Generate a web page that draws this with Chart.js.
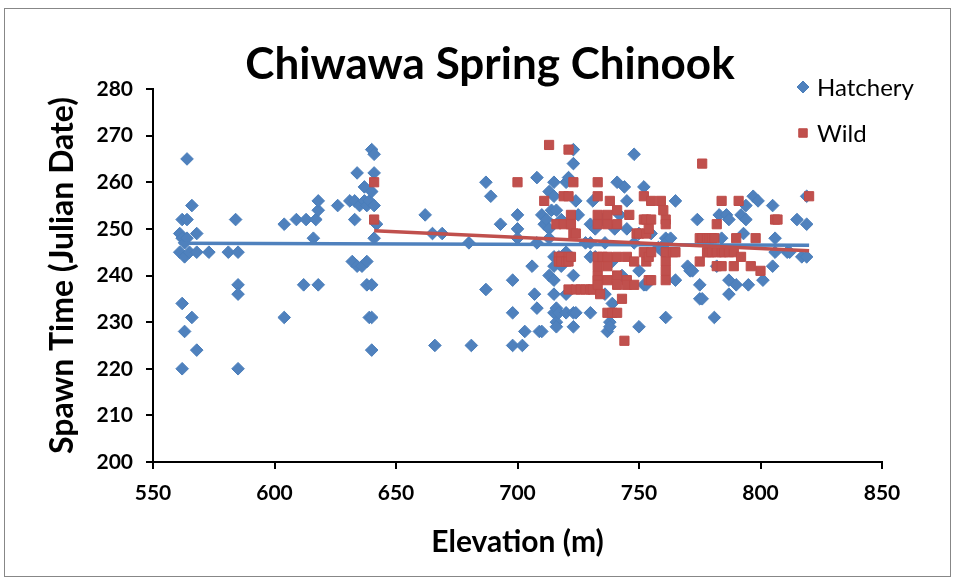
<!DOCTYPE html>
<html>
<head>
<meta charset="utf-8">
<script src="https://cdn.jsdelivr.net/npm/chart.js@4.4.0/dist/chart.umd.min.js"></script>
<style>
  html, body { margin: 0; padding: 0; background: #fff; }
  #wrap { position: relative; width: 954px; height: 578px; }
</style>
</head>
<body>
<div id="wrap"><canvas id="c" width="954" height="578"></canvas></div>
<script>
// ---- data ----
const chartTitle = "Chiwawa Spring Chinook";
const xTitle = "Elevation (m)";
const yTitle = "Spawn Time (Julian Date)";
const seriesNames = ["Hatchery", "Wild"];
const xTicks = [550, 600, 650, 700, 750, 800, 850];
const yTicks = [200, 210, 220, 230, 240, 250, 260, 270, 280];

// Hatchery: [elevation, julian date]
const hatchery = [
  [561,249],[561,245],[562,252],[562,248],[562,234],[562,220],[563,247],[563,244],[563,228],[564,265],
  [564,252],[564,248],[565,245],[566,255],[566,231],[568,249],[568,245],[568,224],[573,245],[581,245],
  [584,252],[585,245],[585,238],[585,236],[585,220],
  [604,251],[604,231],[609,252],[612,238],[613,252],[616,248],[617,252],[618,254],[618,256],[618,238],
  [626,255],[631,256],[633,256],[633,252],[634,262],[635,255],[637,256],[637,259],[638,255],[639,256],
  [640,258],[641,255],[632,243],[634,242],[636,242],[638,243],[638,238],[640,238],[639,231],[640,231],
  [640,224],[640,267],[641,266],[641,262],[642,251],[641,248],
  [662,253],[665,249],[669,249],[666,225],[680,247],[681,225],[687,260],[687,237],[689,257],[693,251],
  [698,239],[698,232],[698,225],[700,253],[700,250],[700,248],[702,225],[703,228],[706,242],[707,236],
  [708,261],[708,247],[708,233],[709,228],[710,228],[710,253],[711,251],[712,252],[713,258],[713,250],
  [713,248],[713,240],[714,254],[715,260],[715,257],[715,244],[715,242],[715,239],[715,236],[715,232],
  [716,254],[716,233],[716,230],[716,229],[717,244],[717,232],[718,252],[718,242],[720,260],[720,245],
  [720,236],[720,232],[721,261],[723,267],[723,264],[723,240],[723,232],[723,229],[724,256],[724,232],
  [725,253],[730,251],[730,244],[730,232],[731,256],[732,250],[732,244],
  [728,247],[730,247],[735,252],[736,247],[736,236],[737,228],[738,230],[738,229],[739,243],[739,234],
  [741,260],[743,240],[744,259],[745,250],[748,266],[748,247],[750,241],[750,249],[750,229],[752,259],
  [752,238],[753,238],[755,249],[758,246],[760,245],[761,248],[761,247],[761,231],[763,248],[765,256],
  [765,239],[742,253],[745,256],[740,250],
  [770,242],[771,241],[772,241],[774,252],[775,238],[775,235],[776,235],[781,231],[782,242],[783,253],
  [784,248],[786,253],[787,252],[787,239],[787,236],[790,238],[792,253],[793,249],[794,255],[794,252],
  [795,238],[797,257],[799,256],[801,239],[805,255],[805,242],[806,248],[806,245],[811,245],[812,245],
  [815,252],[817,244],[819,257],[819,251],[819,244]
];

// Wild: [elevation, julian date]
const wild = [
  [641,260],[641,252],
  [700,260],[711,256],[713,268],[716,251],[717,244],[717,243],[718,244],[718,243],[719,257],[719,251],
  [720,243],[721,267],[721,257],[721,244],[721,243],[721,237],[722,253],[722,251],[722,244],[723,260],
  [723,249],[724,249],[724,237],[726,237],[728,237],[730,237],[731,237],[733,260],[733,257],[733,253],
  [733,251],[733,244],[733,242],[733,240],[733,239],[733,238],[734,236],[735,244],[737,253],[737,251],
  [737,244],[737,242],[737,239],[737,232],[738,256],[739,232],[741,254],[741,251],[741,244],[741,240],
  [741,238],[741,232],[743,235],[744,226],[745,244],[745,239],[745,238],[746,253],[748,243],[748,238],
  [749,249],[750,249],[752,257],[752,252],[752,245],[753,252],[753,249],[753,243],[754,250],[754,244],
  [754,239],[755,256],[755,252],[755,245],[755,239],[759,256],[760,254],[761,252],[761,251],[761,245],
  [761,243],[761,241],[761,239],[764,245],[765,245],
  [775,248],[775,243],[776,264],[776,248],[778,248],[778,245],[779,248],[779,245],[780,248],[780,245],
  [781,248],[782,251],[782,245],[782,242],[784,256],[784,245],[784,242],[785,245],[787,245],[789,245],
  [789,242],[790,248],[791,256],[792,244],[796,242],[798,248],[800,241],[806,252],[807,252],[820,257]
];

// Linear trend lines: [elevation, date] at each end
const hatcheryTrend = [[561,246.9],[820,246.5]];
const wildTrend = [[641,249.6],[820,245.3]];

// ---- styling ----
const BLUE = "#4F81BD", BLUE_EDGE = "#4A7EBB";
const RED = "#C0504D", RED_EDGE = "#BE4B48";
const FONT = "Lato, 'Open Sans', sans-serif";

const toPts = a => a.map(p => ({x: p[0], y: p[1]}));

const framePlugin = {
  id: 'frame',
  beforeDraw(chart) {
    const ctx = chart.ctx;
    ctx.save();
    ctx.fillStyle = '#fff';
    ctx.fillRect(0, 0, chart.width, chart.height);
    ctx.strokeStyle = '#878787';
    ctx.lineWidth = 1;
    ctx.strokeRect(4.5, 8.5, 946, 568);
    ctx.restore();
  },
  afterDraw(chart) {
    const ctx = chart.ctx;
    ctx.save();
    // title
    ctx.fillStyle = '#000';
    ctx.font = "bold 44px " + FONT;
    ctx.textAlign = 'center';
    ctx.textBaseline = 'alphabetic';
    ctx.fillText(chartTitle, 490, 79);
    // legend
    const items = [
      {label: seriesNames[0], style: 'rectRot', color: BLUE, edge: BLUE_EDGE, y: 87},
      {label: seriesNames[1], style: 'rect', color: RED, edge: RED_EDGE, y: 133}
    ];
    ctx.font = "24px " + FONT;
    ctx.textAlign = 'left';
    ctx.textBaseline = 'middle';
    items.forEach(it => {
      ctx.fillStyle = it.color;
      ctx.strokeStyle = it.edge;
      ctx.lineWidth = 1;
      Chart.helpers.drawPoint(ctx, {pointStyle: it.style, radius: 6, rotation: 0, borderWidth: 1}, 803, it.y);
      ctx.fillStyle = '#000';
      ctx.fillText(it.label, 817, it.y + 1);
    });
    ctx.restore();
  }
};

new Chart(document.getElementById('c'), {
  data: {
    datasets: [
      {
        type: 'scatter', label: seriesNames[0], data: toPts(hatchery),
        pointStyle: 'rectRot', pointRadius: 6.3, pointHoverRadius: 6.3,
        backgroundColor: BLUE, borderColor: BLUE_EDGE, borderWidth: 1, order: 3
      },
      {
        type: 'scatter', label: seriesNames[1], data: toPts(wild),
        pointStyle: 'rect', pointRadius: 6.5, pointHoverRadius: 6.5,
        backgroundColor: RED, borderColor: RED_EDGE, borderWidth: 1, order: 2
      },
      {
        type: 'line', label: 'Hatchery trend', data: toPts(hatcheryTrend),
        borderColor: BLUE, borderWidth: 3.5, pointRadius: 0, fill: false, order: 1
      },
      {
        type: 'line', label: 'Wild trend', data: toPts(wildTrend),
        borderColor: RED, borderWidth: 3.5, pointRadius: 0, fill: false, order: 0
      }
    ]
  },
  options: {
    responsive: false,
    animation: false,
    events: [],
    layout: { padding: { top: 89, right: 72, bottom: 14, left: 40 } },
    plugins: { legend: { display: false }, title: { display: false }, tooltip: { enabled: false } },
    scales: {
      x: {
        type: 'linear', position: 'bottom', min: 550, max: 850,
        afterBuildTicks: s => { s.ticks = xTicks.map(v => ({value: v})); },
        afterFit: s => { s.height = 102; },
        ticks: { color: '#000', font: { family: FONT, size: 21, weight: 'bold' }, padding: 12 },
        grid: { display: true, drawOnChartArea: false, drawTicks: true, tickLength: 7, color: '#000', lineWidth: 2 },
        border: { display: true, color: '#000', width: 2 },
        title: { display: true, text: xTitle, color: '#000', font: { family: FONT, size: 30, weight: 'bold' }, padding: { top: 4, bottom: 4 } }
      },
      y: {
        type: 'linear', position: 'left', min: 200, max: 280,
        afterBuildTicks: s => { s.ticks = yTicks.map(v => ({value: v})); },
        afterFit: s => { s.width = 113; },
        ticks: { color: '#000', font: { family: FONT, size: 21, weight: 'bold' }, padding: 13 },
        grid: { display: true, drawOnChartArea: false, drawTicks: true, tickLength: 7, color: '#000', lineWidth: 2 },
        border: { display: true, color: '#000', width: 2 },
        title: { display: true, text: yTitle, color: '#000', font: { family: FONT, size: 32, weight: 'bold' }, padding: { top: 3, bottom: 4 } }
      }
    }
  },
  plugins: [framePlugin]
});
</script>
</body>
</html>
